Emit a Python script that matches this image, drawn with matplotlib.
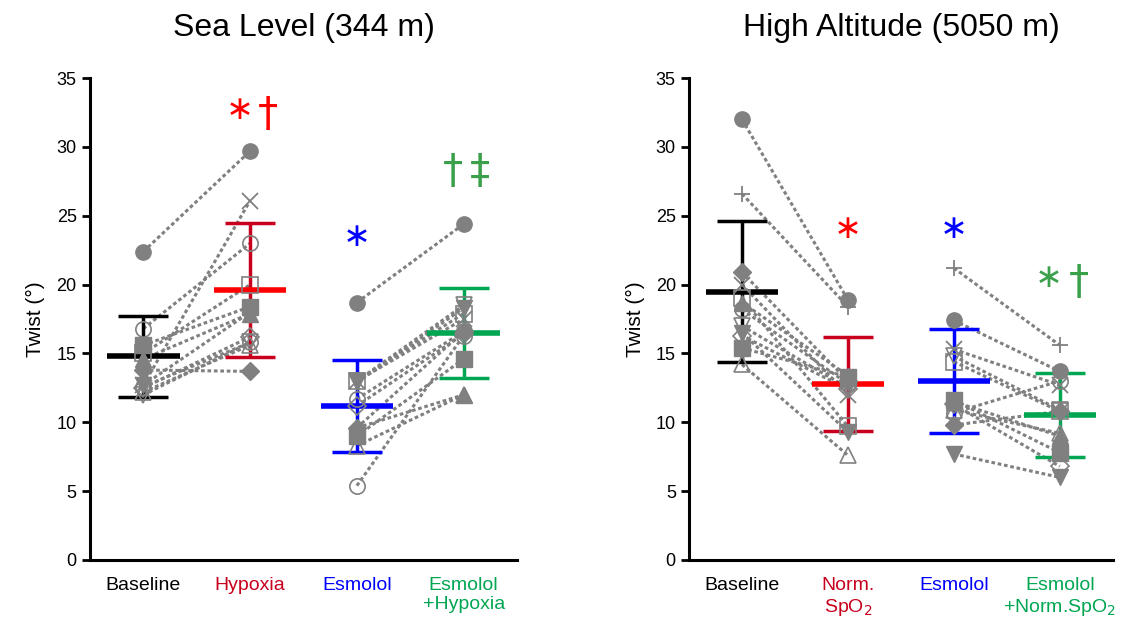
import numpy as np
import matplotlib.pyplot as plt

plt.rcParams['font.family'] = ['Liberation Sans', 'DejaVu Sans']

# ---- data ----
# marker per subject (same order in every condition of a panel)
markers_sl = ['o', 'x', 'o', 's', 's', '^', 'v', 'D', 'D', '^', 'o', 'v']
filled_sl  = [True, False, False, False, True, True, False, True, False, False, False, True]
markers_ha = ['o', '+', 'D', 'x', 's', '^', 'o', 'v', 'D', 's', '^', 'v']
filled_ha  = [True, False, True, False, False, True, False, False, False, True, False, True]

# sea level: Baseline, Hypoxia, Esmolol, Esmolol+Hypoxia
sl_baseline = [22.4, 12.7, 16.8, 15.0, 15.6, 14.6, 12.0, 13.8, 12.5, 12.2, 12.6, 12.7]
sl_hypoxia  = [29.7, 26.1, 23.0, 20.0, 18.4, 17.9, 15.8, 13.7, 16.2, 15.6, 15.8, 18.0]
sl_esmolol  = [18.7, 13.0, 11.7, 13.0,  9.0,  9.6, 13.0,  9.6, 11.2,  8.3,  5.4, 12.9]
sl_esm_hyp  = [24.4, 17.5, 16.6, 17.9, 14.6, 12.0, 18.5, 16.6, 16.4, 12.0, 16.3, 18.3]
sl_mean = [14.8, 19.6, 11.2, 16.5]
sl_sd   = [2.95, 4.85, 3.35, 3.25]

# high altitude: Baseline, Norm. SpO2, Esmolol, Esmolol+Norm.SpO2
ha_baseline = [32.0, 26.6, 20.9, 20.0, 19.0, 18.7, 18.2, 17.0, 16.3, 15.4, 14.2, 16.5]
ha_normspo2 = [18.9, 18.4, 13.0, 12.0,  9.7, 13.4, 12.8, 12.5, 12.4, 13.3,  7.6,  9.3]
ha_esmolol  = [17.4, 21.2,  9.8, 15.3, 14.4, 11.5, 10.7, 14.8, 11.3, 11.6, 10.9,  7.7]
ha_esm_norm = [13.7, 15.6, 10.8, 12.7, 10.8,  9.0, 13.0, 10.9,  6.8,  7.8,  9.2,  6.0]
ha_mean = [19.5, 12.8, 13.0, 10.5]
ha_sd   = [5.15, 3.4, 3.75, 3.05]

sl_labels = ['Baseline', 'Hypoxia', 'Esmolol', 'Esmolol\n+Hypoxia']
ha_labels = ['Baseline', 'Norm.\nSpO$_2$', 'Esmolol', 'Esmolol\n+Norm.SpO$_2$']

# significance marks: (category, y, symbol, colour)
sl_marks = [(0.90, 32.7, '∗', '#ff0000'), (1.17, 32.3, '†', '#ff0000'),
            (2.0, 23.5, '∗', '#0000ff'),
            (2.90, 28.2, '†', '#3aa04a'), (3.15, 28.2, '‡', '#3aa04a')]
ha_marks = [(1.0, 24.1, '∗', '#ff0000'), (2.0, 24.1, '∗', '#0000ff'),
            (2.90, 20.5, '∗', '#3aa04a'), (3.18, 20.1, '†', '#3aa04a')]

mean_cols = ['black', '#ff0000', '#0000ff', '#00a651']
err_cols  = ['black', '#c8001e', '#0000ff', '#00a651']
lab_cols  = ['black', '#c8001e', '#0000ff', '#00a651']

grey = '#808080'


def panel(ax, cols, markers, filled, means, sds, labels, title, marks):
    x = np.arange(4)
    # dotted lines between paired conditions
    for a, b in [(0, 1), (2, 3)]:
        for i in range(len(cols[0])):
            ax.plot([x[a], x[b]], [cols[a][i], cols[b][i]], color=grey,
                    lw=2.2, ls=(0, (1.2, 0.9)), zorder=1)
    # mean +/- sd
    for j in range(4):
        ax.errorbar(x[j], means[j], yerr=sds[j], fmt='none', ecolor=err_cols[j],
                    elinewidth=2.5, capsize=18, capthick=2.5, zorder=2)
        ax.hlines(means[j], x[j] - 0.34, x[j] + 0.34, color=mean_cols[j],
                  lw=4, zorder=2)
    # subject markers
    for j in range(4):
        for i in range(len(cols[j])):
            m = markers[i]
            if m in ('x', '+'):
                ax.plot(x[j], cols[j][i], m, color=grey, ms=12, mew=1.3, zorder=3)
            elif filled[i]:
                ms = 9 if m == 'D' else 11
                ax.plot(x[j], cols[j][i], m, color=grey, ms=ms, zorder=3)
            else:
                ms = 9 if m == 'D' else 11
                ax.plot(x[j], cols[j][i], m, mfc='none', mec=grey, mew=1.2,
                        ms=ms, zorder=3)
    for xm, ym, s, c in marks:
        size = 24 if s == '∗' else 29
        ax.text(xm, ym, s, color=c, fontsize=size, ha='center', va='center',
                family='DejaVu Sans')
    ax.set_xlim(-0.5, 3.5)
    ax.set_ylim(0, 35)
    ax.set_yticks(np.arange(0, 36, 5))
    ax.set_xticks(x)
    ax.set_xticklabels(labels, fontsize=14)
    for t, c in zip(ax.get_xticklabels(), lab_cols):
        t.set_color(c)
    ax.tick_params(axis='x', length=0, pad=12)
    ax.tick_params(axis='y', labelsize=13, width=2, length=6, direction='out')
    for s in ['top', 'right']:
        ax.spines[s].set_visible(False)
    for s in ['left', 'bottom']:
        ax.spines[s].set_linewidth(2.2)
    ax.set_ylabel('Twist (°)', fontsize=15, labelpad=8)
    ax.set_title(title, fontsize=23, pad=30)


fig = plt.figure(figsize=(11.24, 6.25), dpi=100)
ax1 = fig.add_axes([0.080, 0.104, 0.380, 0.771])
ax2 = fig.add_axes([0.613, 0.104, 0.377, 0.771])
ax1.patch.set_alpha(0)
ax2.patch.set_alpha(0)

panel(ax1, [sl_baseline, sl_hypoxia, sl_esmolol, sl_esm_hyp], markers_sl, filled_sl,
      sl_mean, sl_sd, sl_labels, 'Sea Level (344 m)', sl_marks)
panel(ax2, [ha_baseline, ha_normspo2, ha_esmolol, ha_esm_norm], markers_ha, filled_ha,
      ha_mean, ha_sd, ha_labels, 'High Altitude (5050 m)', ha_marks)

fig.savefig('out.png', dpi=100)
